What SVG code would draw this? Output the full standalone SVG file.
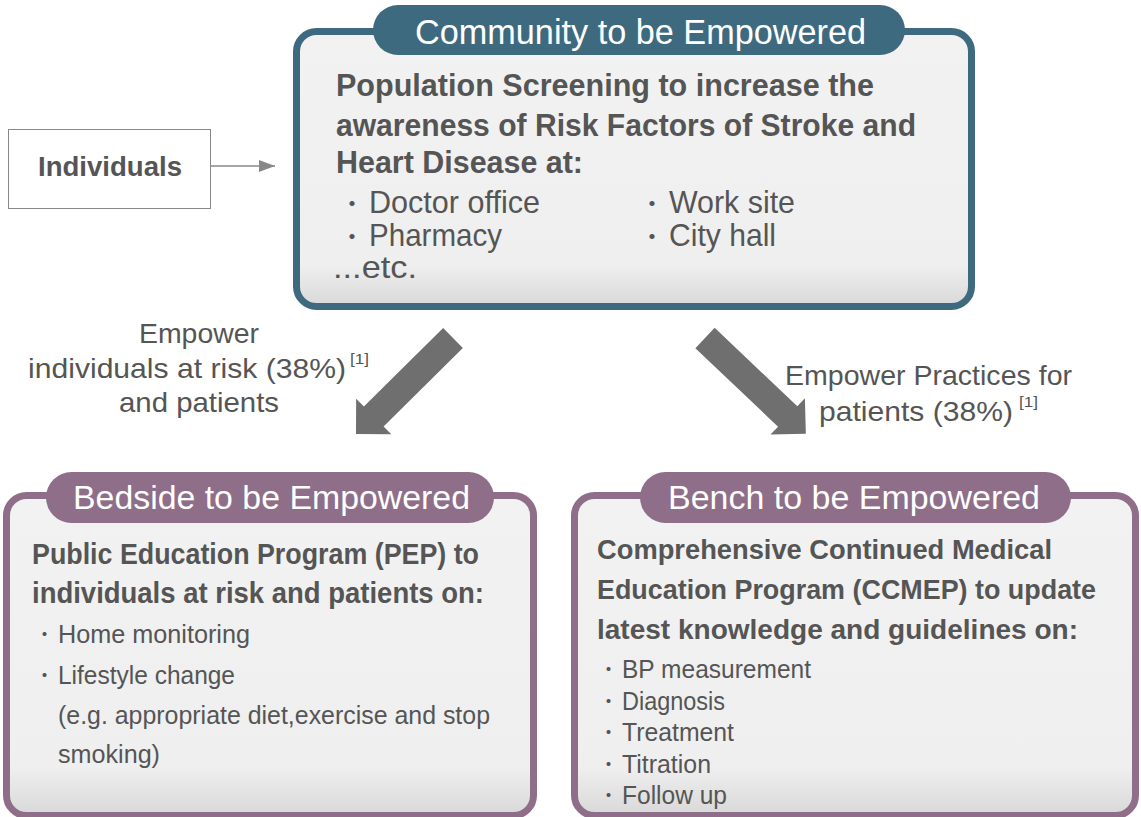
<svg xmlns="http://www.w3.org/2000/svg" width="1141" height="817" viewBox="0 0 1141 817">
<style>
.tabtxt{font-family:"Liberation Sans Narrow","Liberation Sans",sans-serif;fill:#ffffff;}
.bold{font-family:"Liberation Sans Narrow","Liberation Sans",sans-serif;font-weight:bold;fill:#555555;}
.reg{font-family:"Liberation Sans Narrow","Liberation Sans",sans-serif;fill:#555555;}
.dot{font-family:"Noto Sans CJK JP",sans-serif;fill:#555555;}
.blue{stroke:#3e6a80;}
.purple{stroke:#8e6e88;}
.box{fill:url(#g);stroke-width:7;}
</style>
<defs>
<linearGradient id="g" x1="0" y1="0" x2="0" y2="1">
<stop offset="0" stop-color="#f2f2f2"/>
<stop offset="0.85" stop-color="#efefef"/>
<stop offset="1" stop-color="#d8d8d8"/>
</linearGradient>
<marker id="ah" markerWidth="16" markerHeight="12" refX="16" refY="6" orient="auto" markerUnits="userSpaceOnUse">
<path d="M0,0 L16,6 L0,12 Z" fill="#888888"/>
</marker>
</defs>
<rect width="1141" height="817" fill="#ffffff"/>

<g id="individuals">
<rect x="8.5" y="129.5" width="202" height="79" fill="#ffffff" stroke="#888888" stroke-width="1"/>
<text class="bold" x="110" y="176" font-size="28" text-anchor="middle" textLength="144" lengthAdjust="spacingAndGlyphs">Individuals</text>
</g>

<g id="community">
<rect class="box blue" x="296.5" y="31.5" width="675" height="275" rx="20"/>
<rect x="373" y="5" width="532" height="50" rx="25" fill="#3e6a80"/>
<text class="tabtxt" x="415" y="44" font-size="35" textLength="451" lengthAdjust="spacingAndGlyphs">Community to be Empowered</text>
<text class="bold" x="336" y="96" font-size="31" textLength="538" lengthAdjust="spacingAndGlyphs">Population Screening to increase the</text>
<text class="bold" x="336" y="136" font-size="31" textLength="580" lengthAdjust="spacingAndGlyphs">awareness of Risk Factors of Stroke and</text>
<text class="bold" x="336" y="173" font-size="31" textLength="247" lengthAdjust="spacingAndGlyphs">Heart Disease at:</text>
<text class="dot" x="340" y="212" font-size="24">・</text>
<text class="reg" x="369" y="213" font-size="32" textLength="171" lengthAdjust="spacingAndGlyphs">Doctor office</text>
<text class="dot" x="340" y="245" font-size="24">・</text>
<text class="reg" x="369" y="246" font-size="32" textLength="133" lengthAdjust="spacingAndGlyphs">Pharmacy</text>
<text class="reg" x="333" y="278" font-size="32" textLength="84" lengthAdjust="spacingAndGlyphs">...etc.</text>
<text class="dot" x="640" y="212" font-size="24">・</text>
<text class="reg" x="669" y="213" font-size="32" textLength="126" lengthAdjust="spacingAndGlyphs">Work site</text>
<text class="dot" x="640" y="245" font-size="24">・</text>
<text class="reg" x="669" y="246" font-size="32" textLength="107" lengthAdjust="spacingAndGlyphs">City hall</text>
</g>

<g id="bedside">
<rect class="box purple" x="6.5" y="495.5" width="527" height="320" rx="20"/>
<rect x="46" y="472" width="448" height="51" rx="25.5" fill="#8e6e88"/>
<text class="tabtxt" x="73" y="509" font-size="34" textLength="397" lengthAdjust="spacingAndGlyphs">Bedside to be Empowered</text>
<text class="bold" x="32" y="564" font-size="29" textLength="447" lengthAdjust="spacingAndGlyphs">Public Education Program (PEP) to</text>
<text class="bold" x="32" y="603" font-size="29" textLength="452" lengthAdjust="spacingAndGlyphs">individuals at risk and patients on:</text>
<text class="dot" x="35" y="642" font-size="19">・</text>
<text class="reg" x="58" y="643" font-size="25" textLength="192" lengthAdjust="spacingAndGlyphs">Home monitoring</text>
<text class="dot" x="35" y="683" font-size="19">・</text>
<text class="reg" x="58" y="684" font-size="25" textLength="177" lengthAdjust="spacingAndGlyphs">Lifestyle change</text>
<text class="reg" x="58" y="724" font-size="25" textLength="432" lengthAdjust="spacingAndGlyphs">(e.g. appropriate diet,exercise and stop</text>
<text class="reg" x="58" y="763" font-size="25" textLength="102" lengthAdjust="spacingAndGlyphs">smoking)</text>
</g>

<g id="bench">
<rect class="box purple" x="574.5" y="495.5" width="561" height="320" rx="20"/>
<rect x="640" y="472" width="431" height="51" rx="25.5" fill="#8e6e88"/>
<text class="tabtxt" x="668" y="509" font-size="34" textLength="372" lengthAdjust="spacingAndGlyphs">Bench to be Empowered</text>
<text class="bold" x="597" y="559" font-size="28" textLength="455" lengthAdjust="spacingAndGlyphs">Comprehensive Continued Medical</text>
<text class="bold" x="597" y="599" font-size="28" textLength="499" lengthAdjust="spacingAndGlyphs">Education Program (CCMEP) to update</text>
<text class="bold" x="597" y="639" font-size="28" textLength="481" lengthAdjust="spacingAndGlyphs">latest knowledge and guidelines on:</text>
<text class="dot" x="599" y="677" font-size="19">・</text>
<text class="reg" x="622" y="678" font-size="25" textLength="189" lengthAdjust="spacingAndGlyphs">BP measurement</text>
<text class="dot" x="599" y="709" font-size="19">・</text>
<text class="reg" x="622" y="710" font-size="25" textLength="103" lengthAdjust="spacingAndGlyphs">Diagnosis</text>
<text class="dot" x="599" y="740" font-size="19">・</text>
<text class="reg" x="622" y="741" font-size="25" textLength="112" lengthAdjust="spacingAndGlyphs">Treatment</text>
<text class="dot" x="599" y="772" font-size="19">・</text>
<text class="reg" x="622" y="773" font-size="25" textLength="89" lengthAdjust="spacingAndGlyphs">Titration</text>
<text class="dot" x="599" y="803" font-size="19">・</text>
<text class="reg" x="622" y="804" font-size="25" textLength="105" lengthAdjust="spacingAndGlyphs">Follow up</text>
</g>

<g id="connectors">
<line x1="210" y1="166" x2="275" y2="166" stroke="#888888" stroke-width="1.3" marker-end="url(#ah)"/>
<polygon transform="translate(453,338) rotate(135.3)" points="0,-14 111.5,-14 111.5,-25 136.5,0 111.5,25 111.5,14 0,14" fill="#6f6f6f"/>
<polygon transform="translate(705,338) rotate(43.5)" points="0,-14 114,-14 114,-25 139,0 114,25 114,14 0,14" fill="#6f6f6f"/>
<text class="reg" x="199" y="343" font-size="28" text-anchor="middle" textLength="120" lengthAdjust="spacingAndGlyphs">Empower</text>
<text class="reg" x="28" y="378" font-size="28" textLength="318" lengthAdjust="spacingAndGlyphs">individuals at risk (38%)</text>
<text class="reg" x="350" y="364" font-size="14" textLength="19" lengthAdjust="spacingAndGlyphs">[1]</text>
<text class="reg" x="199" y="412" font-size="28" text-anchor="middle" textLength="160" lengthAdjust="spacingAndGlyphs">and patients</text>
<text class="reg" x="785" y="385" font-size="28" textLength="287" lengthAdjust="spacingAndGlyphs">Empower Practices for</text>
<text class="reg" x="819" y="421" font-size="28" textLength="194" lengthAdjust="spacingAndGlyphs">patients (38%)</text>
<text class="reg" x="1019" y="407" font-size="14" textLength="19" lengthAdjust="spacingAndGlyphs">[1]</text>
</g>
</svg>
